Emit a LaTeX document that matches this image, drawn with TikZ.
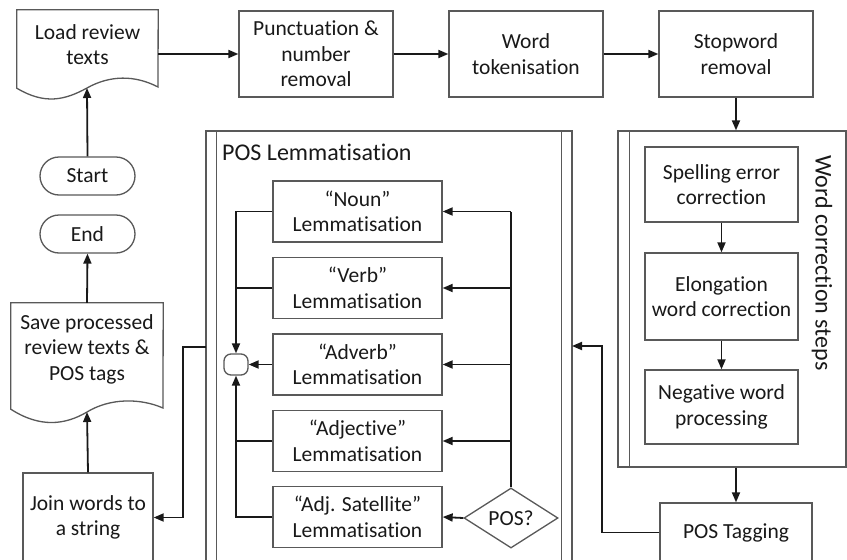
\documentclass[tikz,border=0pt]{standalone}
\usepackage{fontspec}
\setmainfont{Carlito}[Ligatures=NoCommon]
\usetikzlibrary{arrows.meta,shapes.geometric,calc}
\begin{document}
\begin{tikzpicture}[x=1pt,y=-1pt,
  every node/.style={font=\fontsize{21.5}{25.5}\selectfont},
  outline/.style={draw=black!65, line width=1.3pt},
  procbox/.style={outline, align=center, inner sep=0pt, text=black!90},
  term/.style={procbox, rounded corners=19pt, minimum width=95pt, minimum height=38pt},
  lembox/.style={procbox, minimum width=169pt, minimum height=61pt},
  corrbox/.style={procbox, minimum width=153pt},
  plain/.style={align=center, inner sep=0pt, text=black!90},
  ghost/.style={inner sep=0pt},
  titletext/.style={plain, font=\fontsize{24}{28}\selectfont},
  conn/.style={line width=1.8pt, black!90},
  arr/.style={conn, -{Triangle[length=10pt,width=8pt]}}]

\fill[white] (0,0) rectangle (847,560);
\useasboundingbox (0,0) rectangle (847,560);
\clip (0,0) rectangle (847,560);

% ---- top row ----
\node[ghost, minimum width=141pt, minimum height=78pt] (load) at (87.5,49) {};
\draw[outline] (load.south west) -- (load.north west) -- (load.north east) -- (158,87)
  .. controls (135,75) and (110,75) .. (87,88)
  .. controls (65,100) and (45,105) .. cycle;
\coordinate (loadw) at (87,88);
\node[plain] (loadtxt) at (87.5,44.5) {Load review\\texts};

\node[procbox, minimum width=154pt, minimum height=86pt] (punct) at (316,54) {Punctuation \&\\number\\removal};
\node[procbox, minimum width=154pt, minimum height=86pt] (word) at (526,54) {Word\\tokenisation};
\node[procbox, minimum width=154pt, minimum height=86pt] (stop) at (736,54) {Stopword\\removal};

\draw[arr] (load.east |- punct.west) -- (punct.west);
\draw[arr] (punct.east) -- (word.west);
\draw[arr] (word.east) -- (stop.west);

% ---- left column ----
\node[term] (start) at (87.5,176) {Start};
\node[term] (end) at (87.5,234) {End};

\node[ghost, minimum width=152pt, minimum height=106pt] (save) at (87,356) {};
\draw[outline] (save.south west) -- (save.north west) -- (save.north east) -- (163,408)
  .. controls (140,398) and (110,398) .. (87,412)
  .. controls (65,425) and (40,428) .. cycle;
\coordinate (savew) at (87,412);
\node[plain] (savetxt) at (87,349) {Save processed\\review texts \&\\POS tags};

\node[procbox, minimum width=130pt, minimum height=89pt] (join) at (88,517.5) {Join words to\\a string};

\draw[arr] (start.north) -- (loadw);
\draw[arr] (save.north) -- (end.south);
\draw[arr] (join.north) -- (savew);

% ---- word correction steps ----
\node[outline, ghost, minimum width=228pt, minimum height=336pt] (wc) at (732,299) {};
\draw[outline] ($(wc.north west)+(12,0)$) -- ($(wc.south west)+(12,0)$);
\node[titletext, rotate=-90] (wctitle) at (822,263) {Word correction steps};

\node[corrbox, minimum height=75pt] (spell) at (721.5,184.5) {Spelling error\\correction};
\node[corrbox, minimum height=87pt] (elong) at (721.5,296.5) {Elongation\\word correction};
\node[corrbox, minimum height=74pt] (neg) at (721.5,407) {Negative word\\processing};

\draw[arr] (spell.south) -- (elong.north);
\draw[arr] (elong.south) -- (neg.north);
\draw[arr] (stop.south) -- (stop.south |- wc.north);

\node[procbox, minimum width=152pt, minimum height=59pt] (postag) at (736,532.5) {POS Tagging};
\draw[arr] (postag.north |- wc.south) -- (postag.north);

% ---- POS lemmatisation ----
\node[outline, ghost, minimum width=366pt, minimum height=434pt] (poslem) at (389,348) {};
\draw[outline] ($(poslem.north west)+(11,0)$) -- ($(poslem.south west)+(11,0)$);
\draw[outline] ($(poslem.north east)+(-11,0)$) -- ($(poslem.south east)+(-11,0)$);
\node[titletext, anchor=west] (pltitle) at (222,152) {POS Lemmatisation};

\node[lembox] (noun) at (357.5,211.5) {“Noun”\\Lemmatisation};
\node[lembox] (verb) at (357.5,288) {“Verb”\\Lemmatisation};
\node[lembox] (adverb) at (357.5,364.5) {“Adverb”\\Lemmatisation};
\node[lembox] (adj) at (357.5,441) {“Adjective”\\Lemmatisation};
\node[lembox] (adjsat) at (357.5,517) {“Adj. Satellite”\\Lemmatisation};

\node[diamond, procbox, minimum width=94pt, minimum height=56pt] (pos) at (511,518) {POS?};
\node[outline, ghost, rounded corners=7pt, minimum width=24pt, minimum height=21pt] (jn) at (236,364.5) {};

% dispatch from the decision to each lemmatiser
\draw[conn] (pos.north) -- (pos.north |- noun.east);
\draw[arr] (pos.north |- noun.east) -- (noun.east);
\draw[arr] (pos.north |- verb.east) -- (verb.east);
\draw[arr] (pos.north |- adverb.east) -- (adverb.east);
\draw[arr] (pos.north |- adj.east) -- (adj.east);
\draw[arr] (pos.west) -- (adjsat.east);

% merge into the junction
\draw[arr] (noun.west) -| (jn.north);
\draw[conn] (verb.west) -- (verb.west -| jn.north);
\draw[arr] (adverb.west) -- (jn.east);
\draw[arr] (adjsat.west) -| (jn.south);
\draw[conn] (adj.west) -- (adj.west -| jn.south);

% links between the stages
\coordinate (plout) at (206,347);
\coordinate (plin) at (572,346);
\draw[arr] (plout) -- ++(-23,0) |- (join.east);
\draw[arr] (postag.west) -- ++(-57,0) |- (plin);

\end{tikzpicture}
\end{document}
